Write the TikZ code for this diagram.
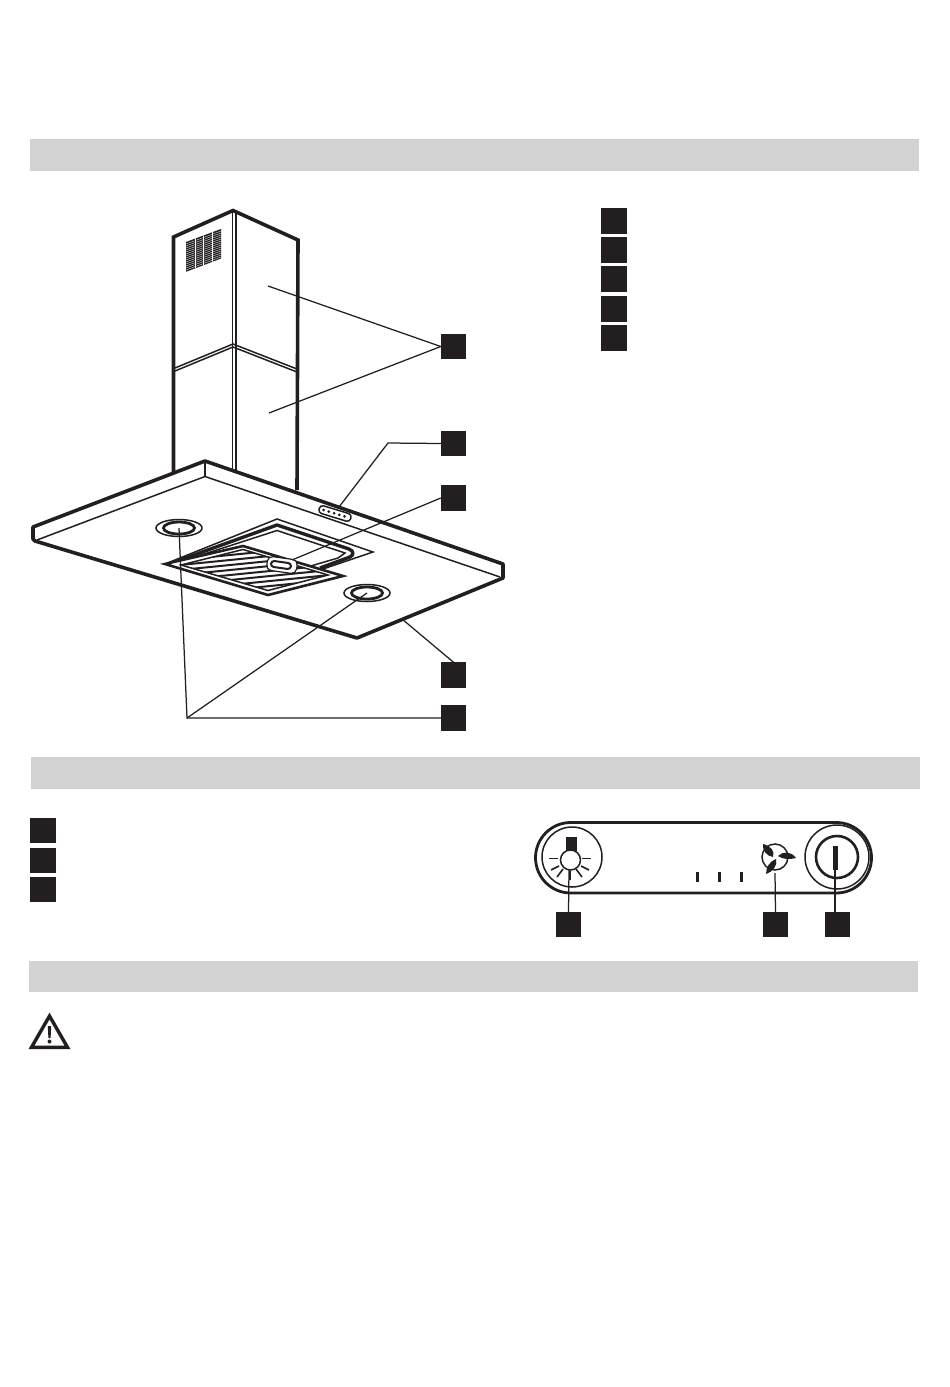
\documentclass[tikz,border=0pt]{standalone}
\definecolor{ink}{HTML}{231F20}
\definecolor{bar}{HTML}{D2D2D2}
\tikzset{
  tag/.style={fill=ink,draw=none,minimum size=25.5pt,inner sep=0pt,outer sep=0pt,rectangle},
  headbar/.style={fill=bar,draw=none},
  leader/.style={draw=ink,line width=1.25pt},
  heavy/.style={draw=ink,line width=3.6pt,line join=miter},
  medium/.style={draw=ink,line width=2.4pt},
  thin line/.style={draw=ink,line width=1.5pt},
  ray/.style={draw=ink,line width=1.6pt},
  tick/.style={draw=ink,line width=3pt}
}
\begin{document}
\begin{tikzpicture}[x=1pt,y=-1pt,line cap=butt]
\useasboundingbox (0,0) rectangle (950,1387);
\fill[white] (0,0) rectangle (950,1387);
% header bars
\fill[headbar] (30,139) rectangle (919,171);
\fill[headbar] (31,757) rectangle (920,789);
\fill[headbar] (29,961) rectangle (918,992);
% chimney
\draw[heavy] (173.5,472) -- (173.5,237) -- (233,210.5) -- (298,240) -- (297,490);
\draw[thin line] (232.5,212) -- (232.5,470);
\draw[medium] (236,212) -- (236,470);
\draw[thin line] (175,368) -- (233,344) -- (297,369);
\draw[thin line] (175,371) -- (233,347) -- (297,372);
% grille
\begin{scope}
\clip (186,242) -- (221,229) -- (221,258.5) -- (186,272) -- cycle;
\fill[ink] (186,242) -- (221,229) -- (221,258.5) -- (186,272) -- cycle;
\foreach \k in {0,...,14}{\draw[white,line width=.3pt] (186,244+2*\k) -- (221,231+2*\k);}
\foreach \xx in {195,203,212}{\draw[white,line width=.9pt] (\xx,225) -- (\xx,275);}
\end{scope}
% hood
\fill[white] (33,526) -- (205,461) -- (503,564) -- (503,578) -- (357,639) -- (35,541) -- cycle;
\draw[ink,line width=3.6pt,line join=round] (35,541) -- (33,539) -- (33,527) -- (205,461) -- (503,564) -- (503,578) -- (357,638) -- cycle;
\draw[thin line] (37,540) -- (205,476.5) -- (500,577);
\draw[thin line] (205,461) -- (205,476.5);
% rings
\foreach \cx/\cy in {179/528,367/593}{
  \draw[thin line] (\cx,\cy) ellipse [x radius=23,y radius=8.5];
  \draw[ink,line width=2.8pt] (\cx,\cy) ellipse [x radius=15.5,y radius=6];
}
% control strip on hood
\draw[thin line,rotate around={-17:(335,513.5)},rounded corners=3.5pt] (318.5,509.5) rectangle (351.5,517.5);
\foreach \t in {-12,-6.5,-1,4.5,10}{\fill[ink] ({335+\t*0.956},{513.5+\t*0.292}) circle (1.5);}
% filter frame
\draw[thin line,line join=miter] (320,570) -- (373,552) -- (277,519) -- (165,564);
\draw[ink,line width=3.4pt,line join=round] (169,564) -- (277,525) -- (349,549) .. controls (354,551) and (354,555) .. (350,557) -- (320,568);
\draw[thin line] (192,558) -- (277,530.5) -- (345,553) -- (338,558) -- (297,570);
% filter panel
\fill[white] (165,564) -- (243,546) -- (343,576) -- (268,595) -- cycle;
\draw[ink,line width=2.6pt,line join=miter] (165,564) -- (243,546) -- (343,576) -- (268,595) -- cycle;
\begin{scope}
\clip (181,565) -- (243,549.5) -- (328,575) -- (268,590.5) -- cycle;
\foreach \k in {0,...,11}{\draw[ink,line width=2pt] (170,{556+5*\k}) -- (340,{539+5*\k});}
\end{scope}
\draw[thin line] (181,565) -- (243,549.5) -- (328,575) -- (268,590.5) -- cycle;
% handle
\fill[white,rotate around={-8:(282,565)},rounded corners=5pt] (267,558) rectangle (297,572);
\draw[draw=ink,line width=1.2pt,rotate around={-8:(282,565)},rounded corners=5pt] (267,558) rectangle (297,572);
\draw[ink,line width=2pt,rotate around={-8:(281,565)},rounded corners=3pt] (271,562) rectangle (291,568);
% tags of main view
\node[tag] (a1) at (453.5,346.5) {};
\node[tag] (a2) at (453.5,443.5) {};
\node[tag] (a3) at (453.5,498) {};
\node[tag] (a4) at (453.5,675) {};
\node[tag] (a5) at (453.5,718) {};
\coordinate (p1) at (268,286);
\coordinate (p2) at (269,413);
\coordinate (p3) at (388,443);
\coordinate (p4) at (339,507);
\coordinate (p5) at (292,560);
\coordinate (p6) at (402,619);
\coordinate (p7) at (187,718);
\coordinate (p8) at (179,528);
\coordinate (p9) at (367,593);
\draw[leader] (a1.west) -- (p1);
\draw[leader] (a1.west) -- (p2);
\draw[leader] (a2.west) -- (p3) -- (p4);
\draw[leader] (a3.west) -- (p5);
\draw[leader] (a4.north) -- (p6);
\draw[leader] (a5.west) -- (p7) -- (p8);
\draw[leader] (p7) -- (p9);
% right list
\foreach \n/\yy in {1/221,2/250,3/279,4/309,5/338}{\node[tag] (r\n) at (614,\yy) {};}
% middle list
\foreach \n/\yy in {1/830.5,2/860.5,3/889.5}{\node[tag] (m\n) at (43,\yy) {};}
% control panel
\draw[ink,line width=2.8pt,rounded corners=35.25pt] (535.5,822.5) rectangle (871.5,893);
\draw[thin line] (572,857) circle (30);
\draw[thin line] (837,857) circle (32);
\draw[ink,line width=2.6pt] (837,857) circle (21);
\draw[ink,line width=5pt] (835,846) -- (835,869.5);
% bulb
\fill[ink] (565.5,837) rectangle (577,851);
\draw[thin line,fill=white] (570.5,860) circle (10);
\draw[ray] (549,858.5) -- (558,858.5);
\draw[ray] (582,858.5) -- (591,858.5);
\draw[ray] (551,870) -- (559,866);
\draw[ray] (589,870) -- (581,866);
\draw[ray] (557,877) -- (563,869);
\draw[ray] (582,877) -- (576,869);
\draw[ink,line width=2.8pt] (570,871) -- (570,880);
% ticks
\foreach \xx in {697,719,741}{\draw[tick] (\xx,872) -- (\xx,882);}
% fan
\draw[thin line] (775,857) circle (13);
\fill[ink] (763,844) .. controls (771,846) and (775,851) .. (773,857) .. controls (767,856) and (762,851) .. (763,844) -- cycle;
\fill[ink] (796,858) .. controls (791,851) and (783,851) .. (778,856) .. controls (782,859) and (789,860) .. (796,858) -- cycle;
\fill[ink] (766,874) .. controls (766,867) and (770,861) .. (776,859) .. controls (778,865) and (773,872) .. (766,874) -- cycle;
% panel tags
\node[tag] (b1) at (568.5,924.5) {};
\node[tag] (b2) at (775.5,924.5) {};
\node[tag] (b3) at (837.5,924.5) {};
\coordinate (q1) at (569,870);
\coordinate (q2) at (775,873);
\coordinate (q3) at (835,869);
\draw[leader] (b1.north) -- (q1);
\draw[leader] (b2.north) -- (q2);
\draw[leader] (b3.north -| q3) -- (q3);
% warning triangle
\draw[ink,line width=3.4pt,line join=miter] (49.5,1016) -- (67.5,1047.3) -- (31.5,1047.3) -- cycle;
\fill[ink] (47.8,1026) -- (51.2,1026) -- (50.6,1038) -- (48.4,1038) -- cycle;
\fill[ink] (49.5,1041.5) circle (2);
\end{tikzpicture}
\end{document}
